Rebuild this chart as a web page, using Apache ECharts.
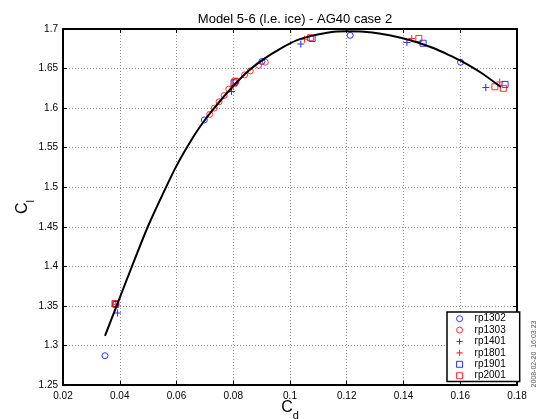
<!DOCTYPE html>
<html><head><meta charset="utf-8">
<script src="https://cdn.jsdelivr.net/npm/echarts@6/dist/echarts.min.js"></script>
<style>html,body{margin:0;padding:0;background:#fff}#c{width:538px;height:419px}</style>
</head><body><div id="c"></div>
<script>
// ---- data ----
const titleText = 'Model 5-6 (l.e. ice) - AG40 case 2';
const stampText = '2008-02-20  16:03:23';

const rp1302Cd = [0.0348, 0.0698, 0.0901, 0.1212, 0.1601];
const rp1302Cl = [1.287, 1.585, 1.659, 1.692, 1.658];

const rp1303Cd = [0.0386, 0.0717, 0.0733, 0.0750, 0.0768, 0.0784, 0.0810, 0.0840, 0.0860, 0.0889, 0.0913];
const rp1303Cl = [1.352, 1.592, 1.600, 1.608, 1.616, 1.624, 1.634, 1.642, 1.647, 1.654, 1.658];

const rp1401Cd = [0.0392, 0.0794, 0.1038, 0.1412, 0.1690];
const rp1401Cl = [1.341, 1.621, 1.681, 1.683, 1.626];

const rp1801Cd = [0.0386, 0.0800, 0.1051, 0.1429, 0.1739];
const rp1801Cl = [1.352, 1.628, 1.687, 1.688, 1.633];

const rp1901Cd = [0.0386, 0.0803, 0.1078, 0.1469, 0.1758];
const rp1901Cl = [1.352, 1.632, 1.688, 1.682, 1.630];

const rp2001Cd = [0.0383, 0.0807, 0.1072, 0.1454, 0.1722, 0.1752];
const rp2001Cl = [1.353, 1.634, 1.689, 1.688, 1.627, 1.625];

const fitCd = [0.0348, 0.039, 0.0454, 0.050, 0.055, 0.060, 0.066, 0.0698, 0.0733, 0.0768, 0.080, 0.085, 0.0907, 0.0965, 0.1025, 0.1085, 0.1142, 0.120, 0.126, 0.132, 0.139, 0.145, 0.1507, 0.1555, 0.1601, 0.1672, 0.1743];
const fitCl = [1.312, 1.351, 1.410, 1.451, 1.490, 1.527, 1.564, 1.584, 1.600, 1.615, 1.628, 1.646, 1.662, 1.675, 1.686, 1.692, 1.696, 1.697, 1.6965, 1.694, 1.689, 1.683, 1.6756, 1.668, 1.660, 1.645, 1.6267];

const xMin = 0.02, xMax = 0.18, xStep = 0.02;
const yMin = 1.25, yMax = 1.7, yStep = 0.05;

// ---- styles ----
const FONT = '"Liberation Sans", Arial, Helvetica, sans-serif';
const BLUE = '#0000ff', RED = '#ff0000';
const PLUS = 'path://M5,0V10M0,5H10';
const zip = (a, b) => a.map((v, i) => [v, b[i]]);
const CLEAR = 'rgba(0,0,0,0)';

function shapeStyle(shape, color) {
  if (shape === 'plus') return { symbol: PLUS, size: 7, itemStyle: { color: CLEAR, borderColor: color, borderWidth: 1.1 } };
  return { symbol: shape, size: 6, itemStyle: { color: CLEAR, borderColor: color, borderWidth: 1 } };
}

function markerSeries(name, xs, ys, shape, color) {
  const st = shapeStyle(shape, color);
  return {
    name, type: 'scatter', data: zip(xs, ys), xAxisIndex: 0, yAxisIndex: 0,
    symbol: st.symbol, symbolSize: st.size, itemStyle: st.itemStyle,
    emphasis: { disabled: true }, z: 3
  };
}

const seriesDefs = [
  ['rp1302', rp1302Cd, rp1302Cl, 'circle', BLUE],
  ['rp1303', rp1303Cd, rp1303Cl, 'circle', RED],
  ['rp1401', rp1401Cd, rp1401Cl, 'plus', BLUE],
  ['rp1801', rp1801Cd, rp1801Cl, 'plus', RED],
  ['rp1901', rp1901Cd, rp1901Cl, 'rect', BLUE],
  ['rp2001', rp2001Cd, rp2001Cl, 'rect', RED]
];

const legendData = seriesDefs.map(d => {
  const st = shapeStyle(d[3], d[4]);
  return { name: d[0], icon: st.symbol, itemStyle: st.itemStyle };
});

const gridLine = { show: true, lineStyle: { color: '#8c8c8c', width: 1, type: [1, 2] } };
const axisLineBlack = { show: true, onZero: false, lineStyle: { color: '#000', width: 2 } };
const tickIn = { show: true, inside: true, length: 4, lineStyle: { color: '#000', width: 1 } };
const fmt = v => String(+v.toFixed(2));
const nameRich = {
  a: { fontFamily: FONT, fontSize: 16, lineHeight: 18, verticalAlign: 'top', color: '#000' },
  b: { fontFamily: FONT, fontSize: 11, padding: [10, 0, 0, 0], verticalAlign: 'top', color: '#000' }
};

const chart = echarts.init(document.getElementById('c'), null, { renderer: 'canvas' });
chart.setOption({
  animation: false,
  backgroundColor: '#fff',
  title: {
    text: titleText, left: 290, top: 8, textAlign: 'center',
    textStyle: { fontFamily: FONT, fontSize: 13, fontWeight: 'normal', color: '#000' }
  },
  grid: { left: 63, top: 29, width: 454, height: 356, containLabel: false, outerBoundsMode: 'none' },
  legend: {
    orient: 'vertical', left: 447, top: 312,
    data: legendData,
    itemWidth: 6, itemHeight: 6, itemGap: 0,
    padding: [1, 14, 0, 9],
    backgroundColor: '#fff', borderColor: '#000', borderWidth: 1.5,
    selectedMode: false,
    textStyle: { fontFamily: FONT, fontSize: 10, color: '#000', lineHeight: 11.4, padding: [0, 0, 0, 7] }
  },
  xAxis: [
    {
      type: 'value', min: xMin, max: xMax, interval: xStep, position: 'bottom',
      axisLine: axisLineBlack, axisTick: tickIn, splitLine: gridLine,
      axisLabel: { formatter: fmt, margin: 6, fontFamily: FONT, fontSize: 10, color: '#000' },
      name: '{a|C}{b|d}', nameLocation: 'middle', nameGap: 15, nameMoveOverlap: false,
      nameTextStyle: { fontFamily: FONT, color: '#000', rich: nameRich }
    },
    {
      type: 'value', min: xMin, max: xMax, interval: xStep, position: 'top',
      axisLine: axisLineBlack, axisTick: tickIn, splitLine: { show: false },
      axisLabel: { show: false }
    }
  ],
  yAxis: [
    {
      type: 'value', min: yMin, max: yMax, interval: yStep, position: 'left',
      axisLine: axisLineBlack, axisTick: tickIn, splitLine: gridLine,
      axisLabel: { formatter: fmt, margin: 5, fontFamily: FONT, fontSize: 10, color: '#000' },
      name: '{a|C}{b|l}', nameLocation: 'middle', nameGap: 27, nameRotate: 90, nameMoveOverlap: false,
      nameTextStyle: { fontFamily: FONT, color: '#000', rich: nameRich }
    },
    {
      type: 'value', min: yMin, max: yMax, interval: yStep, position: 'right',
      axisLine: axisLineBlack, axisTick: tickIn, splitLine: { show: false },
      axisLabel: { show: false }
    }
  ],
  series: [
    {
      name: 'fit', type: 'line', data: zip(fitCd, fitCl), smooth: 0.3,
      showSymbol: false, symbol: 'none', xAxisIndex: 0, yAxisIndex: 0,
      lineStyle: { color: '#000', width: 2 }, emphasis: { disabled: true }, z: 4
    }
  ].concat(seriesDefs.map(d => markerSeries(d[0], d[1], d[2], d[3], d[4]))),
  graphic: [
    {
      type: 'text', x: 534, y: 354, rotation: Math.PI / 2,
      style: { text: stampText, fontFamily: FONT, fontSize: 7, fill: '#555', align: 'center', verticalAlign: 'middle' }
    }
  ]
});
</script>
</body></html>
